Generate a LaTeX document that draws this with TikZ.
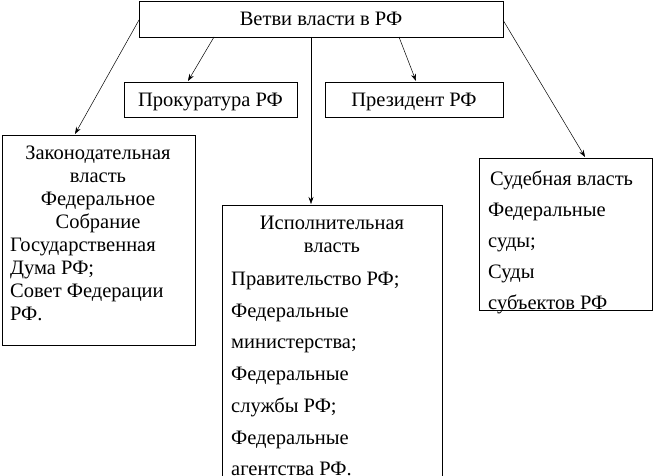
\documentclass[tikz,border=0pt]{standalone}
\usepackage{fontspec}
\setmainfont{Liberation Serif}
\usetikzlibrary{arrows.meta}
\begin{document}
\begin{tikzpicture}[x=1pt,y=-1pt,
  box/.style={draw,line width=0.8pt,inner sep=0pt,anchor=north west},
  t/.style={font=\fontsize{20.5}{24}\selectfont,inner sep=0pt},
  tl/.style={t,anchor=base west},
  tc/.style={t,anchor=base},
  arr/.style={-{Stealth[length=7pt,width=5pt]},line width=0.5pt}]
\useasboundingbox (0,0) rectangle (653,476);
\begin{scope}
\clip (0,0) rectangle (653,476);
\node[box,minimum width=364pt,minimum height=36pt] (top) at (139,1) {};
\node[tc] (ttop) at (321,26) {Ветви власти в РФ};
\node[box,minimum width=173pt,minimum height=35pt] (prok) at (124,82) {};
\node[tc] at (210.5,107) {Прокуратура РФ};
\node[box,minimum width=178pt,minimum height=35pt] (pres) at (325,82) {};
\node[tc] at (414,107) {Президент РФ};
\node[box,minimum width=193pt,minimum height=210pt] (zak) at (2,135) {};
\node[tc] at (98,159) {Законодательная};
\node[tc] at (98,182) {власть};
\node[tc] at (98,205) {Федеральное};
\node[tc] at (98,228) {Собрание};
\node[tl] at (10,251) {Государственная};
\node[tl] at (10,274) {Дума РФ;};
\node[tl] at (10,297) {Совет Федерации};
\node[tl] at (10,320) {РФ.};
\node[box,minimum width=220pt,minimum height=280pt] (isp) at (222,205) {};
\node[tc] at (332,229) {Исполнительная};
\node[tc] at (332,252) {власть};
\node[tl] at (231,285) {Правительство РФ;};
\node[tl] at (231,317) {Федеральные};
\node[tl] at (231,348) {министерства;};
\node[tl] at (231,380) {Федеральные};
\node[tl] at (231,412) {службы РФ;};
\node[tl] at (231,444) {Федеральные};
\node[tl] at (231,475) {агентства РФ.};
\node[box,minimum width=173pt,minimum height=152pt] (sud) at (479,158) {};
\node[tl] at (490,185) {Судебная власть};
\node[tl] at (488,216) {Федеральные};
\node[tl] at (488,247) {суды;};
\node[tl] at (488,278) {Суды};
\node[tl] at (488,309) {субъектов РФ};
\coordinate (a1) at (139,20); \coordinate (b1) at (75,134);
\coordinate (a2) at (214,37); \coordinate (b2) at (188,81);
\coordinate (a3) at (311,37); \coordinate (b3) at (311,204);
\coordinate (a4) at (399,37); \coordinate (b4) at (416,81);
\coordinate (a5) at (503,20); \coordinate (b5) at (585,157);
\draw[arr] (a1) -- (b1);
\draw[arr] (a2) -- (b2);
\draw[arr] (a3) -- (b3);
\draw[arr] (a4) -- (b4);
\draw[arr] (a5) -- (b5);
\end{scope}
\end{tikzpicture}
\end{document}
